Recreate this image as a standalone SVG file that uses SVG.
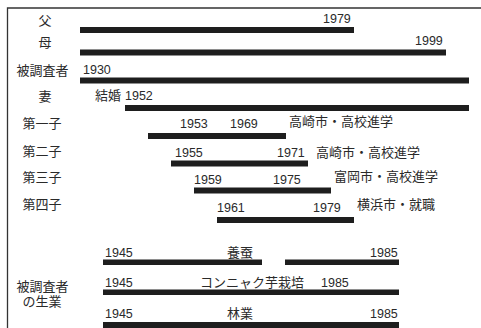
<svg xmlns="http://www.w3.org/2000/svg" width="481" height="328" viewBox="0 0 481 328">
<style>
.t{font-family:"Liberation Sans","Noto Sans CJK JP",sans-serif;font-size:13px;fill:#2a2a2a}
.n{font-family:"Liberation Sans",sans-serif;font-size:12.5px;fill:#2a2a2a}
.b{fill:#1e1e1e}
</style>
<rect width="481" height="328" fill="#fff"/>
<path d="M7.5,330 V8 H482" fill="none" stroke="#333" stroke-width="1.3"/>
<g id="labels">
<text class="t" x="45" y="25" text-anchor="middle">父</text>
<text class="t" x="45" y="47" text-anchor="middle">母</text>
<text class="t" x="42.5" y="75" text-anchor="middle">被調査者</text>
<text class="t" x="45" y="101" text-anchor="middle">妻</text>
<text class="t" x="42" y="128" text-anchor="middle">第一子</text>
<text class="t" x="42" y="156" text-anchor="middle">第二子</text>
<text class="t" x="42" y="182" text-anchor="middle">第三子</text>
<text class="t" x="42" y="209" text-anchor="middle">第四子</text>
<text class="t" x="42.5" y="291" text-anchor="middle">被調査者</text>
<text class="t" x="42" y="306" text-anchor="middle">の生業</text>
</g>
<g id="connectors">
<rect class="b" x="80" y="27" width="274" height="6"/>
<rect class="b" x="80" y="49.5" width="366" height="6"/>
<rect class="b" x="80" y="77.5" width="389" height="6"/>
<rect class="b" x="125" y="105" width="344" height="6"/>
<rect class="b" x="148" y="133" width="138" height="6"/>
<rect class="b" x="171" y="160.5" width="137" height="6"/>
<rect class="b" x="194" y="187.5" width="137" height="6"/>
<rect class="b" x="217" y="217" width="137" height="6"/>
<rect class="b" x="103" y="259.5" width="159" height="5.5"/>
<rect class="b" x="285" y="259.5" width="114" height="5.5"/>
<rect class="b" x="103" y="289.5" width="296" height="5.5"/>
<rect class="b" x="103" y="322" width="296" height="7"/>
</g>
<g id="father"><text class="n" x="323" y="23">1979</text></g>
<g id="mother"><text class="n" x="415" y="45">1999</text></g>
<g id="subject"><text class="n" x="83" y="74">1930</text></g>
<g id="wife"><text class="t" x="95" y="100">結婚</text><text class="n" x="125" y="100">1952</text></g>
<g id="child1"><text class="n" x="180" y="128">1953</text><text class="n" x="230" y="128">1969</text><text class="t" x="289" y="126">高崎市・高校進学</text></g>
<g id="child2"><text class="n" x="175" y="157">1955</text><text class="n" x="277" y="157">1971</text><text class="t" x="316" y="157">高崎市・高校進学</text></g>
<g id="child3"><text class="n" x="194" y="184">1959</text><text class="n" x="273" y="184">1975</text><text class="t" x="334" y="181">富岡市・高校進学</text></g>
<g id="child4"><text class="n" x="217" y="212">1961</text><text class="n" x="313" y="212">1979</text><text class="t" x="357" y="209">横浜市・就職</text></g>
<g id="sericulture"><text class="n" x="105" y="257">1945</text><text class="t" x="227" y="257">養蚕</text><text class="n" x="370" y="257">1985</text></g>
<g id="konjac"><text class="n" x="105" y="287">1945</text><text class="t" x="200" y="287">コンニャク芋栽培</text><text class="n" x="321" y="287">1985</text></g>
<g id="forestry"><text class="n" x="105" y="318">1945</text><text class="t" x="227" y="318">林業</text><text class="n" x="370" y="318">1985</text></g>
</svg>
